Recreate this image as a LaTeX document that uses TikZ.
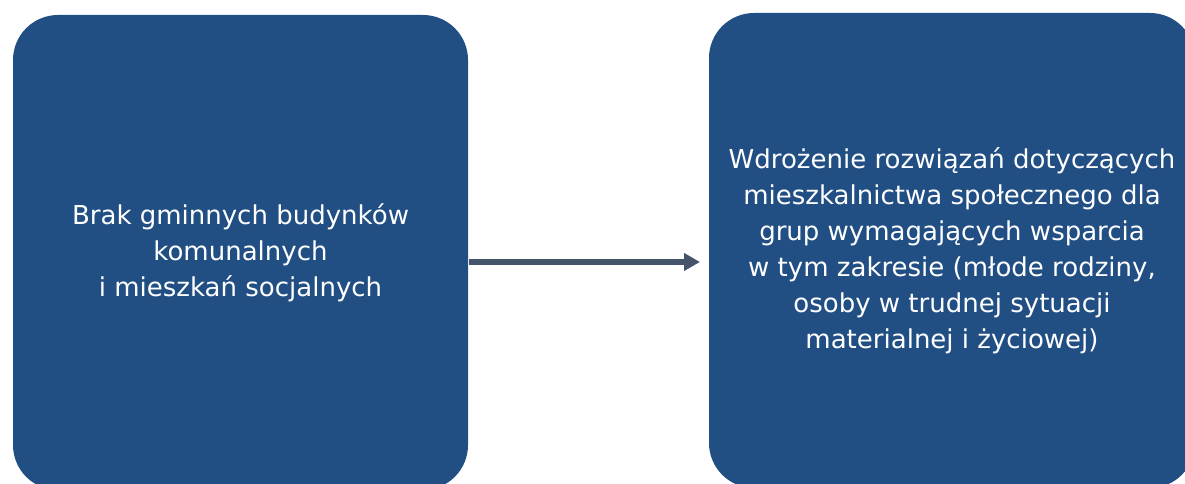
\documentclass[tikz,border=0pt]{standalone}
\usepackage{fontspec}
\setmainfont{DejaVu Sans}
\usetikzlibrary{arrows.meta}
\definecolor{boxblue}{HTML}{214F84}
\definecolor{arrowgray}{HTML}{44546A}
\begin{document}
\begin{tikzpicture}[x=1pt,y=1pt,
  bluebox/.style={fill=boxblue, draw=none, rounded corners=45pt, inner sep=0pt, outer sep=0pt,
    text=white, align=center, font=\fontsize{26}{36}\selectfont},
  connector/.style={draw=arrowgray, line width=6pt, -{Triangle[length=16pt,width=17pt]}}]
\useasboundingbox (0,0) rectangle (1185,-484);
\clip (0,0) rectangle (1185,-484);
\node[bluebox, minimum width=455pt, minimum height=475pt] (L) at (240.5,-252.5)
  {Brak gminnych budynków\\komunalnych\\i mieszkań socjalnych};
\node[bluebox, minimum width=486pt, minimum height=475pt] (R) at (952,-250.5)
  {Wdrożenie rozwiązań dotyczących\\mieszkalnictwa społecznego dla\\grup wymagających wsparcia\\w tym zakresie (młode rodziny,\\osoby w trudnej sytuacji\\materialnej i życiowej)};
\draw[connector, shorten <=1pt, shorten >=9pt] ([yshift=-9.5pt]L.east) -- ([yshift=-11.5pt]R.west);
\end{tikzpicture}
\end{document}
